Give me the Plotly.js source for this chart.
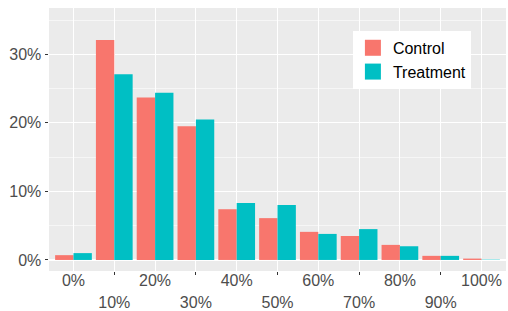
<!DOCTYPE html>
<html>
<head>
<meta charset="utf-8">
<script src="https://cdn.plot.ly/plotly-3.0.1.min.js"></script>
<style>html,body{margin:0;padding:0;background:#fff;}#chart{width:508px;height:311px;}</style>
</head>
<body>
<div id="chart"></div>
<script>
var categories = ['0%','10%','20%','30%','40%','50%','60%','70%','80%','90%','100%'];
var controlValues = [0.7, 32.1, 23.7, 19.5, 7.4, 6.1, 4.1, 3.5, 2.2, 0.6, 0.2];
var treatmentValues = [1.0, 27.1, 24.4, 20.5, 8.3, 8.0, 3.8, 4.5, 2.0, 0.6, 0.05];
var seriesNames = ['Control', 'Treatment'];
var seriesColors = ['#F8766D', '#00BFC4'];
var yTickValues = [0, 10, 20, 30];
var yTickLabels = ['0%', '10%', '20%', '30%'];

var idx = categories.map(function(c, i){ return i; });
var evenText = categories.map(function(c, i){ return i % 2 === 0 ? c : ''; });
var oddIdx = idx.filter(function(i){ return i % 2 === 1; });
var oddText = oddIdx.map(function(i){ return categories[i]; });

var font = 'Liberation Sans, Arial, sans-serif';
var data = [
  {type:'bar', x: categories, y: controlValues, name: seriesNames[0], marker:{color: seriesColors[0]}, showlegend:false, hoverinfo:'none'},
  {type:'bar', x: categories, y: treatmentValues, name: seriesNames[1], marker:{color: seriesColors[1]}, showlegend:false, hoverinfo:'none'},
  {type:'scatter', mode:'markers', xaxis:'x2', yaxis:'y', x:[null], y:[null], name: seriesNames[0], marker:{symbol:'square', size:16, color: seriesColors[0], line:{width:0}}},
  {type:'scatter', mode:'markers', xaxis:'x2', yaxis:'y', x:[null], y:[null], name: seriesNames[1], marker:{symbol:'square', size:16, color: seriesColors[1], line:{width:0}}}
];

var layout = {
  width: 508, height: 311,
  margin: {l:49, r:2, t:8, b:40},
  paper_bgcolor: '#ffffff',
  plot_bgcolor: '#EBEBEB',
  barmode: 'group', bargap: 0.1, bargroupgap: 0,
  font: {family: font, size: 16, color: '#4D4D4D'},
  showlegend: true,
  legend: {x: 0.665, y: 0.913, xanchor:'left', yanchor:'top', bgcolor:'#ffffff', borderwidth:0,
           font:{family: font, size:16, color:'#000000'}, itemwidth:30, tracegroupgap:0},
  xaxis: {
    type:'category', categoryorder:'array', categoryarray: categories,
    range:[-0.6, 10.6], tickmode:'array', tickvals: categories, ticktext: evenText,
    showgrid:true, gridcolor:'#ffffff', gridwidth:1.1, zeroline:false, showline:false,
    ticks:'', tickfont:{family: font, size:16, color:'#4D4D4D'}, ticklabelstandoff: -2, fixedrange:true
  },
  xaxis2: {
    overlaying:'x', anchor:'y', side:'bottom', type:'linear',
    range:[-0.6, 10.6], tickmode:'array', tickvals: oddIdx, ticktext: oddText,
    showgrid:false, zeroline:false, showline:false,
    ticks:'outside', ticklen:3, tickwidth:1, tickcolor:'#333333',
    tickfont:{family: font, size:16, color:'#4D4D4D'}, ticklabelstandoff: 14
  },
  yaxis: {
    range:[-1.61, 36.75], tickmode:'array', tickvals: yTickValues, ticktext: yTickLabels,
    showgrid:true, gridcolor:'#ffffff', gridwidth:1.1, zeroline:false, showline:false,
    ticks:'outside', ticklen:3.5, tickwidth:1, tickcolor:'#333333',
    tickfont:{family: font, size:16, color:'#4D4D4D'},
    minor: {tickvals:[5,15,25,35], showgrid:true, gridcolor:'#ffffff', gridwidth:0.55, ticks:''}
  }
};

Plotly.newPlot('chart', data, layout, {displayModeBar:false, staticPlot:true});
</script>
</body>
</html>
